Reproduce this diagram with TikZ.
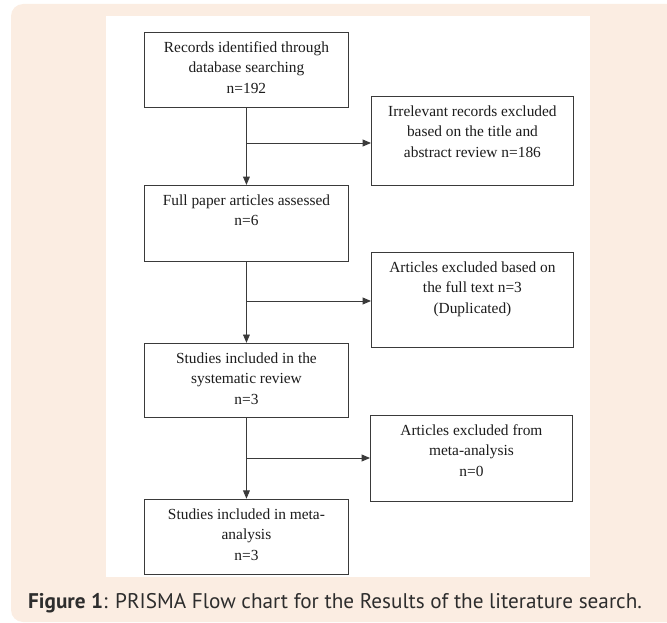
\documentclass[tikz,border=0pt]{standalone}
\usepackage{fontspec}
\setmainfont{Liberation Serif}
\newfontfamily\captionfont{PT Sans}
\usetikzlibrary{positioning,arrows}
\definecolor{peach}{RGB}{251,237,226}
\definecolor{boxline}{RGB}{58,58,58}
\definecolor{inktext}{RGB}{28,28,28}
\definecolor{captionink}{RGB}{45,45,45}
\tikzstyle{stage}=[rectangle, draw=boxline, line width=0.9pt, fill=white, text=inktext,
        inner xsep=6pt, inner ysep=5.6pt, anchor=north west, font=\fontsize{15.4}{20.5}\selectfont]
\tikzstyle{myarrow}=[->, >=triangle 45, line width=0.9pt, draw=boxline]
\newcommand{\boxtext}[3]{\parbox[c][#1][t]{#2}{\centering\strut #3}}

\begin{document}
\begin{tikzpicture}[x=1pt, y=-1pt]
	\useasboundingbox (0,0) rectangle (667,623);
	\fill[peach, rounded corners=12pt] (11,4) rectangle (700,622);
	\fill[white] (106,16) rectangle (590,577);

	\node (Records) [stage] at (144,32)
        {\boxtext{63.8pt}{192pt}{Records identified through\\database searching\\n=192}};
	\node (FullPaper) [stage, below=77pt of Records]
        {\boxtext{64.8pt}{192pt}{Full paper articles assessed\\n=6}};
	\node (Systematic) [stage, below=81pt of FullPaper]
        {\boxtext{62.8pt}{192pt}{Studies included in the\\systematic review\\n=3}};
	\node (MetaStudies) [stage, below=81pt of Systematic]
        {\boxtext{63.8pt}{192pt}{Studies included in meta-\\analysis\\n=3}};

	\node (Irrelevant) [stage] at (371,96)
        {\boxtext{77.8pt}{190pt}{Irrelevant records excluded\\based on the title and\\abstract review n=186}};
	\node (FullTextExcl) [stage] at (371,252)
        {\boxtext{83.8pt}{190pt}{Articles excluded based on\\the full text n=3\\(Duplicated)}};
	\node (MetaExcl) [stage] at (370,415)
        {\boxtext{74.8pt}{190pt}{Articles excluded from\\meta-analysis\\n=0}};

	\coordinate (SplitA) at (Records.south |- 0,143);
	\coordinate (SplitB) at (FullPaper.south |- 0,301);
	\coordinate (SplitC) at (Systematic.south |- 0,458);

	\draw[myarrow] (Records.south) -- (FullPaper.north);
	\draw[myarrow] (FullPaper.south) -- (Systematic.north);
	\draw[myarrow] (Systematic.south) -- (MetaStudies.north);
	\draw[myarrow] (SplitA) -- (SplitA -| Irrelevant.west);
	\draw[myarrow] (SplitB) -- (SplitB -| FullTextExcl.west);
	\draw[myarrow] (SplitC) -- (SplitC -| MetaExcl.west);

	\node (Caption) [anchor=base west, inner sep=0pt, text=captionink,
        font=\captionfont\fontsize{21.2}{24}\selectfont] at (28,608)
        {\textbf{Figure 1}: PRISMA Flow chart for the Results of the literature search.};
\end{tikzpicture}
\end{document}
